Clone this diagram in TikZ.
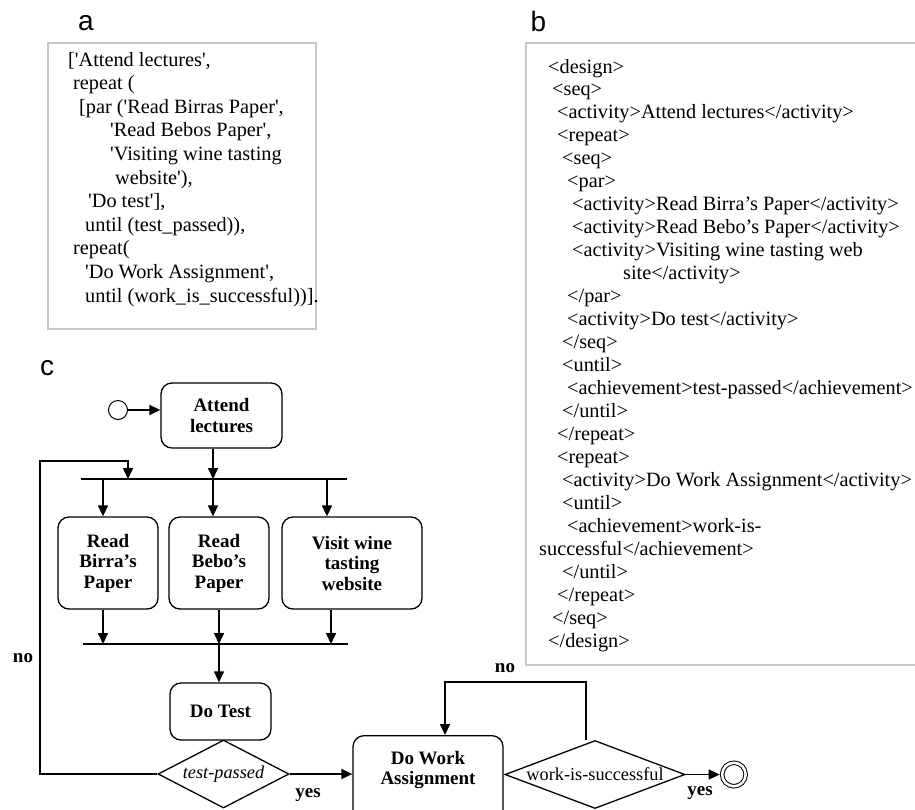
\documentclass[tikz,border=0pt]{standalone}
\usepackage{fontspec}
\setmainfont{Liberation Serif}
\newfontfamily\panelfont{Liberation Sans}
\usetikzlibrary{positioning, shapes.geometric, arrows.meta}

\newcommand{\tq}{\textquotesingle}

\tikzset{
  panel/.style={font=\panelfont\fontsize{28}{30}\selectfont, inner sep=0pt, anchor=base},
  codebox/.style={draw=black!22, line width=1.5pt},
  codeline/.style={font=\fontsize{20.3}{23}\selectfont, inner sep=0pt, anchor=base west},
  activity/.style={draw, line width=1.3pt, rounded corners=11pt, align=center,
    font=\bfseries\fontsize{19}{20.5}\selectfont, inner sep=0pt},
  decision/.style={draw, diamond, line width=1.3pt, inner sep=0pt, font=\fontsize{18.3}{20}\selectfont},
  initialdot/.style={circle, draw, line width=1pt, minimum size=19pt, inner sep=0pt},
  finaldot/.style={circle, draw, line width=1pt, double, double distance=2.5pt,
    minimum size=23.5pt, inner sep=0pt, outer sep=2.5pt},
  flowlabel/.style={font=\bfseries\fontsize{19}{20}\selectfont, inner sep=0pt},
  flow/.style={line width=1.6pt},
}

\begin{document}
\begin{tikzpicture}[x=1pt, y=-1pt, >={Triangle[length=11pt,width=10pt]}]
    \useasboundingbox (0,0) rectangle (915,809);
    \clip (0,0) rectangle (915,809);

    % a: prolog-like notation
    \node[panel](labela) at (86,30){a};
    \draw[codebox] (48,43) rectangle (316,329);
    \foreach \ind/\txt [count=\i] in {
        0/{[\tq Attend lectures\tq,},
        5/{repeat (},
        11/{[par (\tq Read Birras Paper\tq,},
        42/{\tq Read Bebos Paper\tq,},
        42/{\tq Visiting wine tasting},
        47/{website\tq),},
        20/{\tq Do test\tq],},
        17/{until (test\_passed)),},
        5/{repeat(},
        17/{\tq Do Work Assignment\tq,},
        17/{until (work\_is\_successful))].}}
        \node[codeline](a\i) at ({68+\ind},{66+23.6*(\i-1)}){\txt};

    % b: xml notation
    \node[panel](labelb) at (538.5,31){b};
    \draw[codebox] (526,43) rectangle (935,665);
    \foreach \xpos/\txt [count=\i] in {
        548/{<design>},
        552/{<seq>},
        557/{<activity>Attend lectures</activity>},
        557/{<repeat>},
        562/{<seq>},
        567/{<par>},
        572/{<activity>Read Birra's Paper</activity>},
        572/{<activity>Read Bebo's Paper</activity>},
        572/{<activity>Visiting wine tasting web},
        623/{site</activity>},
        567/{</par>},
        567/{<activity>Do test</activity>},
        562/{</seq>},
        562/{<until>},
        567/{<achievement>test-passed</achievement>},
        562/{</until>},
        557/{</repeat>},
        557/{<repeat>},
        562/{<activity>Do Work Assignment</activity>},
        562/{<until>},
        567/{<achievement>work-is-},
        539/{successful</achievement>},
        562/{</until>},
        557/{</repeat>},
        552/{</seq>},
        548/{</design>}}
        \node[codeline](b\i) at (\xpos,{73+22.96*(\i-1)}){\txt};

    % c: activity diagram
    \node[panel](labelc) at (47,375){c};

    \node[initialdot](start) at (118,410){};
    \node[activity, minimum width=121pt, minimum height=65pt](attend) at (221.5,415.5){Attend\\lectures};

    \node[activity, minimum width=100pt, minimum height=92pt](birra) at (108,563){Read\\Birra's\\Paper};
    \node[activity, minimum width=100pt, minimum height=92pt](bebo) at (219,563){Read\\Bebo's\\Paper};
    \node[activity, minimum width=140pt, minimum height=92pt](visit) at (352,563){Visit wine\\tasting\\website};

    \node[activity, minimum width=101pt, minimum height=57pt](dotest) at (220.5,711.5){Do Test};
    \node[decision, minimum width=131pt, minimum height=68pt, aspect=1.93](testpassed) at (223.5,774){\itshape test-passed};

    \node[activity, minimum width=150pt, text height=49pt, text depth=50pt, anchor=north](dowork) at (428,735){Do Work\\Assignment};
    \node[decision, minimum width=180pt, minimum height=68pt, aspect=2.65](worksucc) at (595,774.5){work-is-successful};
    \node[finaldot, right = 34pt of worksucc](finish){};

    % fork and join bars
    \coordinate (forkL) at (81,479);
    \coordinate (forkR) at (347,479);
    \coordinate (forkA) at (103,479);
    \coordinate (forkB) at (213,479);
    \coordinate (forkC) at (327,479);
    \coordinate (loopin) at (128,479);
    \coordinate (joinL) at (83,644);
    \coordinate (joinR) at (348,644);
    \coordinate (joinA) at (103,644);
    \coordinate (joinB) at (219,644);
    \coordinate (joinC) at (331,644);
    \coordinate (loopcorner) at (40,461);
    \coordinate (redocorner) at (445,682);

    \draw[flow] (forkL) -- (forkR);
    \draw[flow] (joinL) -- (joinR);

    \draw[->, flow] (start.east) -- (attend.west |- start.east);
    \draw[->, flow] (attend.south -| forkB) -- (forkB);
    \foreach \c/\n in {forkA/birra, forkB/bebo, forkC/visit}
        \draw[->, flow] (\c) -- (\c |- \n.north);
    \foreach \c/\n in {joinA/birra, joinB/bebo, joinC/visit}
        \draw[->, flow] (\n.south -| \c) -- (\c);
    \draw[->, flow] (joinB) -- (joinB |- dotest.north);

    \draw[->, flow] (testpassed.west) -| (loopcorner) -| (loopin);
    \draw[->, flow] (testpassed.east) -- (dowork.west |- testpassed.east);
    \draw[->, flow] ([xshift=-9pt]worksucc.north) |- (redocorner) -- (redocorner |- dowork.north);
    \draw[->, flow] (worksucc.east) -- (finish.west);

    \node[flowlabel](no1) at (23,658){no};
    \node[flowlabel](yes1) at (308,795){yes};
    \node[flowlabel](no2) at (505,668){no};
    \node[flowlabel](yes2) at (700,793){yes};

\end{tikzpicture}
\end{document}
